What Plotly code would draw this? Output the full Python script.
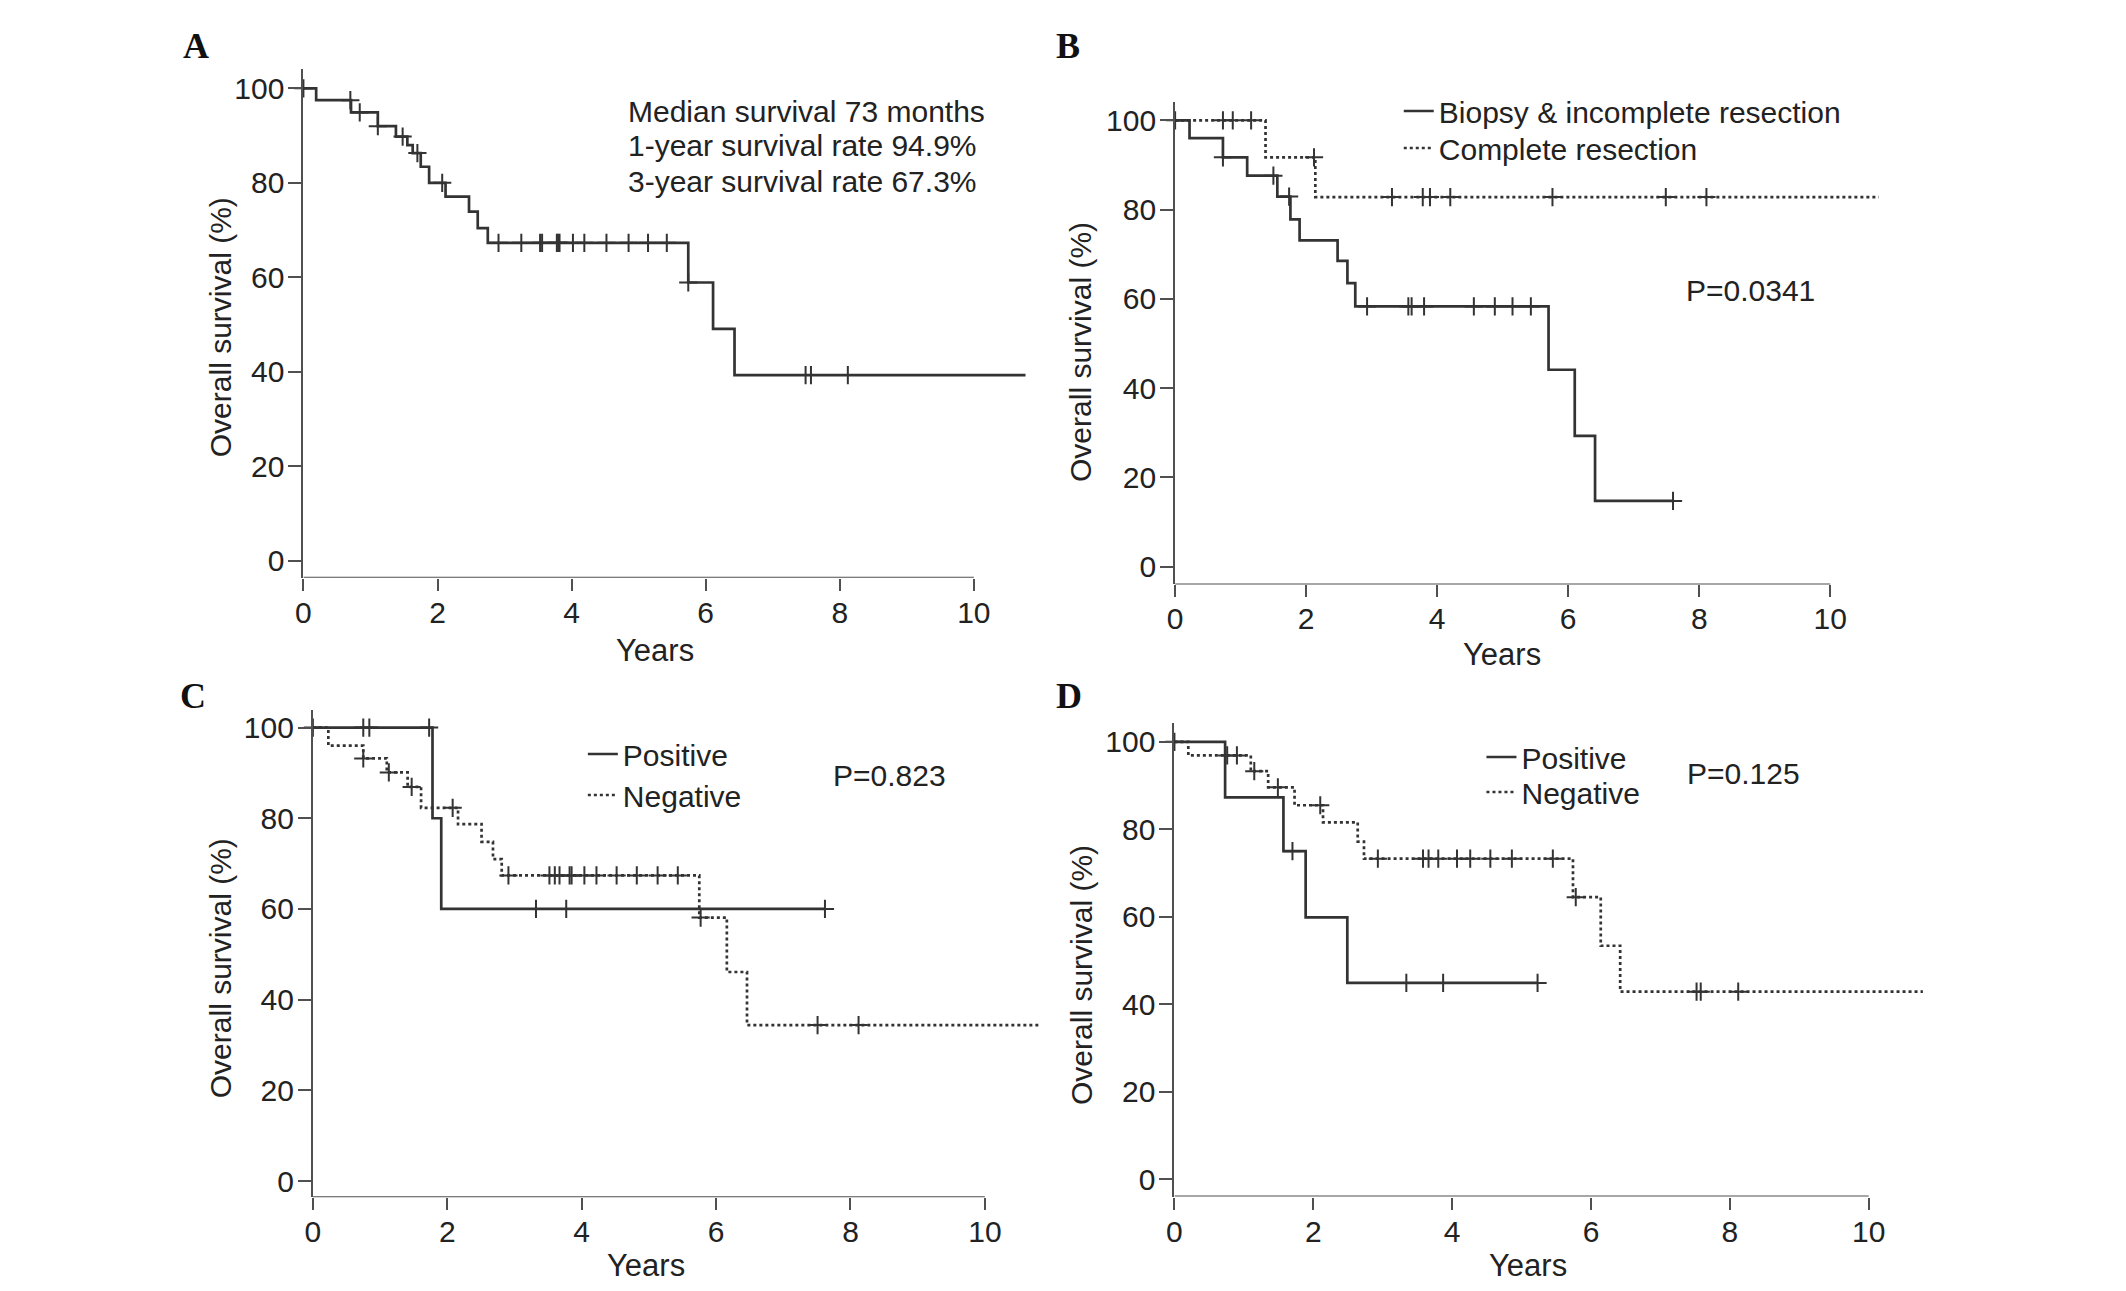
import numpy as np
import plotly.graph_objects as go

W, H = 2126, 1291

# ── Panel A: all patients ─────────────────────────────────────────────
a_times = [0.19, 0.71, 1.11, 1.38, 1.55, 1.63, 1.75, 1.875, 2.12, 2.47, 2.60, 2.75, 5.74, 6.11, 6.43]
a_surv = [97.5, 94.9, 92.0, 89.8, 88.0, 86.3, 83.4, 80.0, 77.1, 73.9, 70.4, 67.3, 58.9, 49.1, 39.3]
a_cens = [0, 0.70, 0.84, 1.11, 1.48, 1.70, 2.07, 2.91, 3.25, 3.53, 3.56, 3.78, 3.80, 3.82,
          4.02, 4.19, 4.52, 4.85, 5.14, 5.42, 5.74, 7.49, 7.57, 8.12]
a_end = 10.77

# ── Panel B: extent of resection ──────────────────────────────────────
b_inc_times = [0.22, 0.73, 1.10, 1.56, 1.76, 1.90, 2.48, 2.63, 2.75, 5.70, 6.10, 6.41]
b_inc_surv = [96.0, 91.7, 87.6, 82.9, 77.8, 73.1, 68.5, 63.5, 58.3, 44.1, 29.3, 14.7]
b_inc_cens = [0.73, 1.50, 1.74, 2.93, 3.56, 3.61, 3.80, 4.56, 4.88, 5.15, 5.43, 7.60]
b_inc_end = 7.60
b_com_times = [1.38, 2.14]
b_com_surv = [91.7, 82.8]
b_com_cens = [0, 0.73, 0.88, 1.16, 2.12, 3.31, 3.78, 3.89, 4.20, 5.76, 7.49, 8.11]
b_com_end = 10.74

# ── Panel C ───────────────────────────────────────────────────────────
c_pos_times = [1.78, 1.91]
c_pos_surv = [80.0, 60.0]
c_pos_cens = [0, 0.75, 0.84, 1.73, 3.32, 3.77, 7.62]
c_pos_end = 7.62
c_neg_times = [0.23, 0.75, 1.10, 1.41, 1.61, 2.16, 2.51, 2.68, 2.81, 5.75, 6.16, 6.46]
c_neg_surv = [96.0, 93.2, 90.1, 86.9, 82.3, 78.7, 74.8, 71.0, 67.4, 58.1, 46.1, 34.4]
c_neg_cens = [0.75, 1.13, 1.47, 2.08, 2.91, 3.52, 3.60, 3.67, 3.82, 3.85, 4.04, 4.22,
              4.52, 4.82, 5.13, 5.43, 5.77, 7.51, 8.12]
c_neg_end = 10.80

# ── Panel D ───────────────────────────────────────────────────────────
d_pos_times = [0.73, 1.57, 1.89, 2.49]
d_pos_surv = [87.3, 75.0, 59.9, 44.9]
d_pos_cens = [0, 1.70, 3.34, 3.87, 5.23]
d_pos_end = 5.23
d_neg_times = [0.20, 1.10, 1.35, 1.73, 2.14, 2.64, 2.73, 5.74, 6.14, 6.42]
d_neg_surv = [96.9, 93.3, 89.6, 85.5, 81.6, 77.2, 73.3, 64.5, 53.4, 42.9]
d_neg_cens = [0.76, 0.90, 1.15, 1.49, 2.10, 2.93, 3.58, 3.66, 3.80, 4.07, 4.26, 4.55,
              4.86, 5.45, 5.78, 7.52, 7.58, 8.12]
d_neg_end = 10.78

x_ticks = [0, 2, 4, 6, 8, 10]
y_ticks = [0, 20, 40, 60, 80, 100]

LINE = "#333333"
AXIS = "#505050"
TXT = "#222222"
FONT = "Liberation Sans, Arial, sans-serif"

# page offset of the plot div compensated in all positions
DX, DY = 17, 8


def px(x):
    return (x - DX) / W


def py(y):
    return 1 - (y - DY) / H


# panel geometry in pixels: left, right, top, bottom, y range
panels = {
    "A": dict(l=305.5, r=1035.7, t=69, b=577.7, yr=[-3.6, 104.1]),
    "B": dict(l=1180.5, r=1894.0, t=102, b=584.4, yr=[-4.0, 104.1]),
    "C": dict(l=315.0, r=1046.9, t=710.3, b=1197.2, yr=[-3.55, 103.8]),
    "D": dict(l=1179.8, r=1936.0, t=723.0, b=1196.5, yr=[-3.9, 104.3]),
}
XMAX = 10.85

fig = go.Figure()


def km(times, surv, cens, end, ax, dash, name=None, legend=None):
    xs = [0] + list(times) + [end]
    ys = [100] + list(surv) + [surv[-1]]
    fig.add_trace(go.Scatter(
        x=xs, y=ys, mode="lines", line=dict(color=LINE, width=2.7, dash=dash, shape="hv"),
        xaxis="x" + ax, yaxis="y" + ax, name=name, showlegend=name is not None,
        legend=legend, hoverinfo="skip",
    ))
    idx = np.searchsorted(np.array(times), np.array(cens), side="right")
    lv = np.array([100] + list(surv))
    fig.add_trace(go.Scatter(
        x=cens, y=lv[idx], mode="markers", cliponaxis=False,
        marker=dict(symbol="cross-thin", size=13, line=dict(color=LINE, width=2)),
        xaxis="x" + ax, yaxis="y" + ax, showlegend=False, hoverinfo="skip",
    ))


km(a_times, a_surv, a_cens, a_end, "", "solid")
km(b_inc_times, b_inc_surv, b_inc_cens, b_inc_end, "2", "solid",
   "Biopsy & incomplete resection", "legend")
km(b_com_times, b_com_surv, b_com_cens, b_com_end, "2", "dot", "Complete resection", "legend2")
km(c_pos_times, c_pos_surv, c_pos_cens, c_pos_end, "3", "solid", "Positive", "legend3")
km(c_neg_times, c_neg_surv, c_neg_cens, c_neg_end, "3", "dot", "Negative", "legend4")
km(d_pos_times, d_pos_surv, d_pos_cens, d_pos_end, "4", "solid", "Positive", "legend5")
km(d_neg_times, d_neg_surv, d_neg_cens, d_neg_end, "4", "dot", "Negative", "legend6")

layout = {}
shapes = []
for i, key in enumerate("ABCD"):
    p = panels[key]
    sfx = "" if i == 0 else str(i + 1)
    layout["xaxis" + sfx] = dict(
        domain=[px(p["l"]), px(p["r"])], range=[0, XMAX], anchor="y" + sfx,
        tickvals=x_ticks, ticks="outside", ticklen=12, tickwidth=2, tickcolor=AXIS,
        showline=False, showgrid=False, zeroline=False, ticklabelstandoff=-4,
        tickfont=dict(size=30, color=TXT, family=FONT),
    )
    layout["yaxis" + sfx] = dict(
        domain=[py(p["b"]), py(p["t"])], range=p["yr"], anchor="x" + sfx,
        tickvals=y_ticks, ticks="outside", ticklen=13, tickwidth=2, tickcolor=AXIS,
        showline=True, linewidth=2, linecolor=AXIS, showgrid=False, zeroline=False,
        ticklabelstandoff=-2,
        tickfont=dict(size=30, color=TXT, family=FONT),
    )
    # x axis line stops at 10 years while the curves run on
    shapes.append(dict(type="line", xref="x" + sfx, yref="y" + sfx,
                       x0=0, x1=10, y0=p["yr"][0], y1=p["yr"][0],
                       line=dict(color=AXIS, width=2)))

annotations = []
# panel letters
for txt, x, y in [("A", 198, 46), ("B", 1073, 46), ("C", 195, 696), ("D", 1074, 696)]:
    annotations.append(dict(text="<b>%s</b>" % txt, x=px(x), y=py(y), xref="paper", yref="paper",
                            showarrow=False, font=dict(family="Liberation Serif", size=36, color="#111"),
                            xanchor="center", yanchor="middle"))
# axis titles
for x, y in [(222, 327), (1086, 352), (222, 968), (1086, 975)]:
    annotations.append(dict(text="Overall survival (%)", x=px(x), y=py(y), xref="paper",
                            yref="paper", showarrow=False, textangle=-90,
                            font=dict(family=FONT, size=30, color=TXT),
                            xanchor="center", yanchor="middle"))
for x, y in [(658, 650), (1509, 654), (649, 1265), (1535, 1265)]:
    annotations.append(dict(text="Years", x=px(x), y=py(y), xref="paper", yref="paper",
                            showarrow=False, font=dict(family=FONT, size=31, color=TXT),
                            xanchor="center", yanchor="middle"))
# panel A summary text
for txt, y in [("Median survival 73 months", 112), ("1-year survival rate 94.9%", 146),
               ("3-year survival rate 67.3%", 182)]:
    annotations.append(dict(text=txt, x=px(629), y=py(y), xref="paper", yref="paper",
                            showarrow=False, font=dict(family=FONT, size=30, color=TXT),
                            xanchor="left", yanchor="middle"))
# p values
for txt, x, y in [("P=0.0341", 1758, 291), ("P=0.823", 894, 775), ("P=0.125", 1751, 773)]:
    annotations.append(dict(text=txt, x=px(x), y=py(y), xref="paper", yref="paper",
                            showarrow=False, font=dict(family=FONT, size=30, color=TXT),
                            xanchor="center", yanchor="middle"))

leg_style = dict(xanchor="left", yanchor="top", bgcolor="rgba(0,0,0,0)",
                 font=dict(family=FONT, size=30, color=TXT))
# one legend per entry so the row spacing can follow the reference
legend_pos = {"legend": (1405, 85), "legend2": (1405, 122),
              "legend3": (586, 728), "legend4": (586, 769),
              "legend5": (1488, 731), "legend6": (1488, 766)}
legends = {k: dict(x=px(x), y=py(y), **leg_style) for k, (x, y) in legend_pos.items()}

fig.update_layout(
    width=W, height=H, margin=dict(l=0, r=0, t=0, b=0),
    paper_bgcolor="white", plot_bgcolor="white",
    font=dict(family=FONT, color=TXT),
    shapes=shapes, annotations=annotations,
    **legends,
    **layout,
)

fig.write_html("out.html")
